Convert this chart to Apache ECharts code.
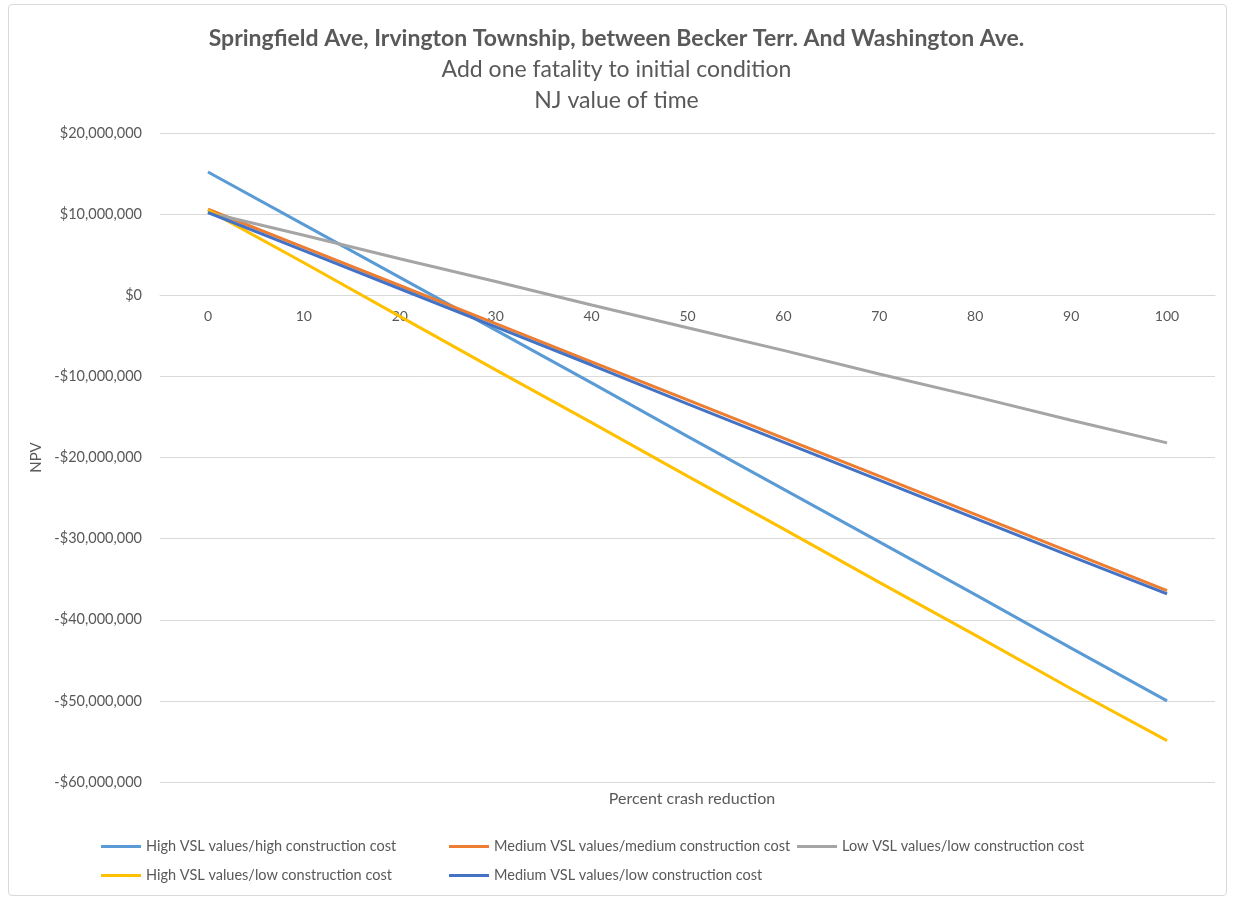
<!doctype html>
<html lang="en-US">
<head>
    <meta charset="utf-8" />
    <title>Springfield Ave NPV</title>
    <script type="text/javascript" src="https://cdn.jsdelivr.net/npm/echarts@6/dist/echarts.min.js"></script>
    <style>
        html, body { margin: 0; padding: 0; background: #fff; }
        #frame {
            position: absolute; left: 8px; top: 4px; width: 1219px; height: 892px;
            border: 1px solid #d9d9d9; border-radius: 4px; box-sizing: border-box;
        }
        #chart { position: absolute; left: 0; top: 0; width: 1233px; height: 899px; }
    </style>
</head>
<body>
    <div id="frame"></div>
    <div id="chart"></div>

<script type="text/javascript">
    // percent crash reduction
    let categories = ["0", "10", "20", "30", "40", "50", "60", "70", "80", "90", "100"];

    // NPV values, dollars
    let highHigh = [15200000, 8700000, 2200000, -4300000, -10800000, -17400000, -23900000, -30400000, -36900000, -43500000, -50000000];
    let medMed = [10600000, 5900000, 1200000, -3500000, -8200000, -12900000, -17600000, -22300000, -27000000, -31700000, -36400000];
    let lowLow = [10200000, 7400000, 4500000, 1700000, -1200000, -4000000, -6800000, -9700000, -12500000, -15400000, -18200000];
    let highLow = [10500000, 4000000, -2600000, -9200000, -15700000, -22300000, -28800000, -35400000, -41900000, -48500000, -54900000];
    let medLow = [10200000, 5500000, 800000, -3900000, -8600000, -13400000, -18100000, -22800000, -27500000, -32200000, -36800000];

    let names = [
        "High VSL values/high construction cost",
        "Medium VSL values/medium construction cost",
        "Low VSL values/low construction cost",
        "High VSL values/low construction cost",
        "Medium VSL values/low construction cost"
    ];
    let colors = ["#5b9bd5", "#ed7d31", "#a5a5a5", "#ffc000", "#4472c4"];
    let values = [highHigh, medMed, lowLow, highLow, medLow];

    let font = "Lato, 'Open Sans', sans-serif";
    let textColor = "#595959";

    let fmt_money = function (v) {
        let s = Math.abs(v).toString().replace(/\B(?=(\d{3})+(?!\d))/g, ",");
        return (v < 0 ? "-$" : "$") + s;
    };

    let legendBase = {
        orient: 'vertical',
        top: 834,
        icon: 'rect',
        itemWidth: 40,
        itemHeight: 3,
        itemGap: 14,
        textStyle: { color: textColor, fontSize: 14.5, fontFamily: font }
    };

    let gridTop = 133, gridBottom = 117;
    // the category axis sits on the $0 line, as in the spreadsheet chart
    let zeroOffset = -(899 - gridTop - gridBottom) * 60 / 80;

    let option = {
        animation: false,
        color: colors,
        textStyle: { fontFamily: font },
        title: [
            {
                text: "Springfield Ave, Irvington Township, between Becker Terr. And Washington Ave.",
                left: 'center',
                top: 22,
                textStyle: { color: textColor, fontSize: 23, fontWeight: 'bold', fontFamily: font }
            },
            {
                text: "Add one fatality to initial condition",
                left: 'center',
                top: 53,
                textStyle: { color: textColor, fontSize: 23, fontWeight: 'normal', fontFamily: font }
            },
            {
                text: "NJ value of time",
                left: 'center',
                top: 84,
                textStyle: { color: textColor, fontSize: 23, fontWeight: 'normal', fontFamily: font }
            },
            {
                text: "Percent crash reduction",
                left: 687,
                textAlign: 'center',
                top: 786,
                textStyle: { color: textColor, fontSize: 16, fontWeight: 'normal', fontFamily: font }
            }
        ],
        legend: [
            Object.assign({ left: 96, data: [names[0], names[3]] }, legendBase),
            Object.assign({ left: 444, data: [names[1], names[4]] }, legendBase),
            Object.assign({ left: 792, data: [names[2]] }, legendBase)
        ],
        grid: { left: 160, right: 18, top: gridTop, bottom: gridBottom },
        xAxis: {
            type: 'category',
            data: categories,
            boundaryGap: true,
            position: 'bottom',
            offset: zeroOffset,
            axisLine: { onZero: false, lineStyle: { color: '#d9d9d9', width: 1 } },
            axisTick: { show: false },
            axisLabel: { color: textColor, fontSize: 14, margin: 14, fontFamily: font }
        },
        yAxis: {
            type: 'value',
            min: -60000000,
            max: 20000000,
            interval: 10000000,
            name: "NPV",
            nameLocation: 'middle',
            nameRotate: 90,
            nameGap: 113,
            nameTextStyle: { color: textColor, fontSize: 15, fontFamily: font },
            axisLine: { show: false },
            axisTick: { show: false },
            splitLine: { lineStyle: { color: '#d9d9d9', width: 1 } },
            axisLabel: { color: textColor, fontSize: 14.5, margin: 18, fontFamily: font, formatter: fmt_money }
        },
        series: names.map(function (n, i) {
            return {
                name: n,
                type: 'line',
                data: values[i],
                showSymbol: false,
                symbol: 'none',
                lineStyle: { width: 3, color: colors[i] },
                itemStyle: { color: colors[i] }
            };
        })
    };

    let myChart = echarts.init(document.getElementById("chart"));
    myChart.setOption(option);
</script>
</body>
</html>
